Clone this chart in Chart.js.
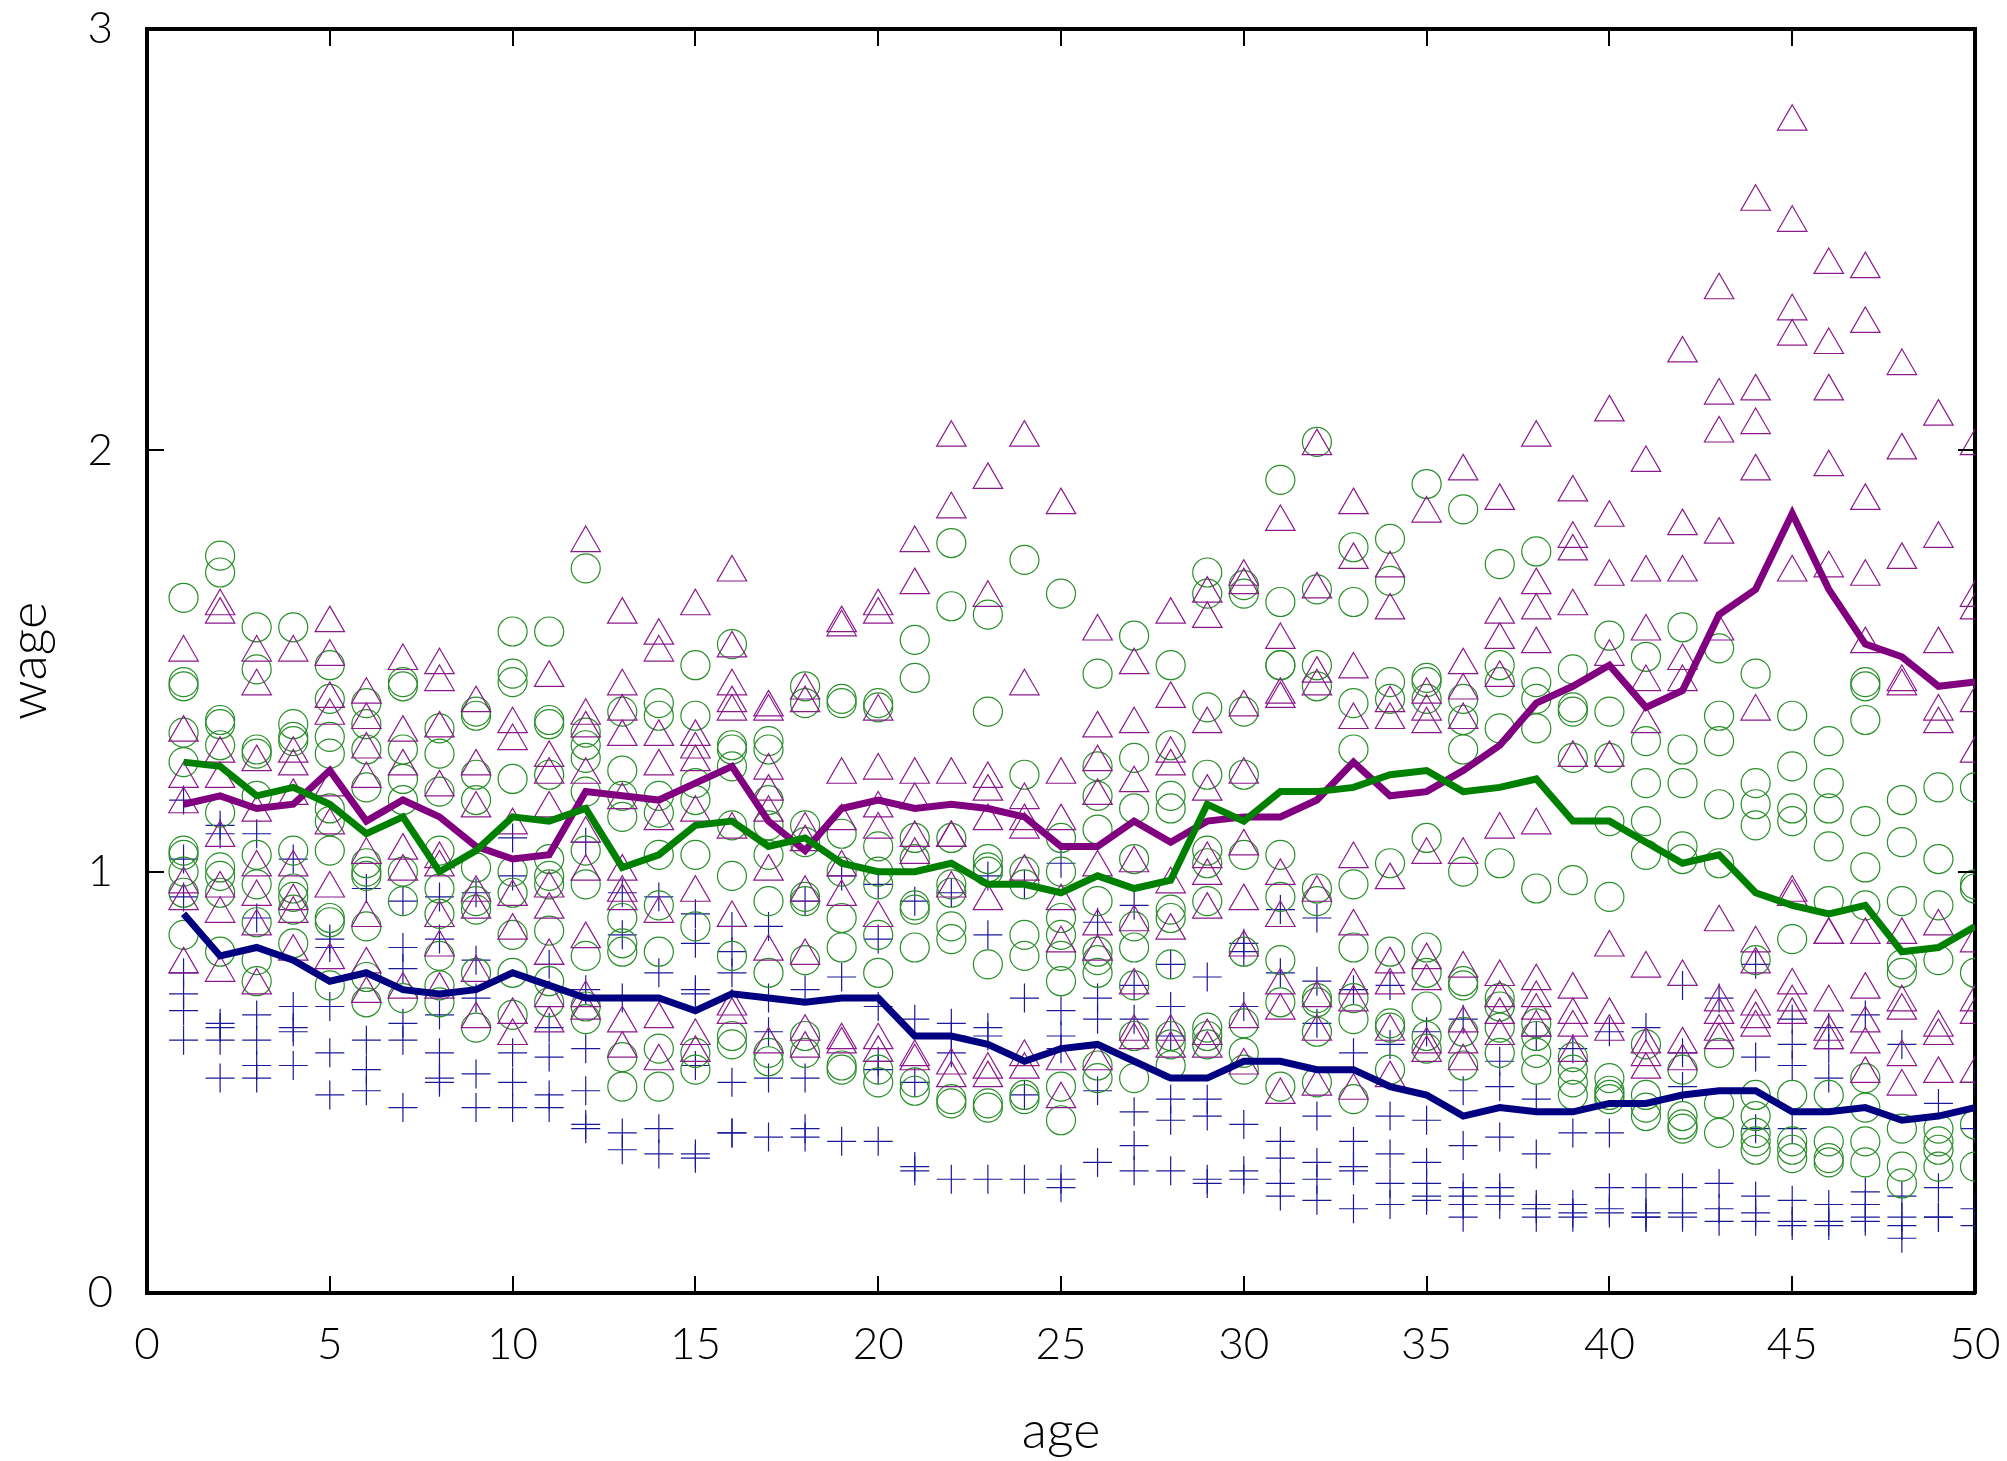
<!DOCTYPE html>
<html>
<head>
<meta charset="utf-8">
<title>wage by age</title>
<script src="https://cdn.jsdelivr.net/npm/chart.js@4.4.1/dist/chart.umd.min.js"></script>
<style>
  html, body { margin: 0; padding: 0; background: #fff; }
  #wrap { width: 2007px; height: 1461px; position: relative; }
</style>
</head>
<body>
<div id="wrap"><canvas id="wageChart"></canvas></div>
<script>
// ages on the x axis
const ages = [1,2,3,4,5,6,7,8,9,10,11,12,13,14,15,16,17,18,19,20,21,22,23,24,25,
              26,27,28,29,30,31,32,33,34,35,36,37,38,39,40,41,42,43,44,45,46,47,48,49,50];

// blue "+" observations, one list per age
const lowWages = [
  [1.17,1.03,0.94,0.76,0.71,0.67,0.60],
  [1.11,1.09,0.64,0.63,0.60,0.51],
  [1.09,0.89,0.66,0.60,0.54,0.51],
  [1.03,0.68,0.63,0.62,0.54],
  [0.84,0.82,0.68,0.57,0.47],
  [0.96,0.60,0.53,0.48],
  [0.93,0.82,0.77,0.64,0.60,0.44],
  [0.94,0.84,0.66,0.57,0.51,0.50],
  [0.95,0.79,0.70,0.52,0.44],
  [1.08,0.99,0.57,0.50,0.44],
  [0.78,0.63,0.56,0.47,0.44],
  [1.07,0.72,0.58,0.48,0.40,0.39],
  [0.95,0.85,0.70,0.38,0.34],
  [0.94,0.76,0.39,0.33],
  [0.90,0.83,0.72,0.71,0.54,0.33,0.32],
  [0.87,0.81,0.76,0.50,0.38,0.38],
  [0.87,0.70,0.62,0.51,0.37],
  [0.93,0.72,0.51,0.39,0.37],
  [0.99,0.75,0.36],
  [0.97,0.84,0.68,0.55,0.53,0.36],
  [0.93,0.65,0.50,0.30,0.29],
  [0.95,0.64,0.61,0.57,0.27],
  [0.99,0.85,0.63,0.61,0.27],
  [0.97,0.70,0.47,0.27],
  [1.02,0.67,0.61,0.58,0.27,0.25],
  [0.88,0.70,0.65,0.48,0.31],
  [0.92,0.73,0.65,0.43,0.35,0.29],
  [0.78,0.68,0.61,0.46,0.41,0.29],
  [0.75,0.46,0.42,0.27,0.26],
  [0.83,0.81,0.68,0.40,0.29,0.27],
  [0.91,0.76,0.36,0.32,0.26,0.23],
  [0.89,0.74,0.64,0.42,0.31,0.27,0.22],
  [0.72,0.57,0.36,0.30,0.29,0.20],
  [0.73,0.59,0.42,0.33,0.26,0.21],
  [0.62,0.41,0.31,0.26,0.23,0.22],
  [0.65,0.48,0.35,0.25,0.23,0.21,0.18],
  [0.55,0.49,0.37,0.25,0.23,0.21],
  [0.61,0.46,0.33,0.21,0.20,0.18],
  [0.58,0.38,0.21,0.19,0.18],
  [0.62,0.38,0.25,0.20,0.19],
  [0.63,0.25,0.19,0.18,0.18],
  [0.73,0.57,0.49,0.25,0.19,0.18],
  [0.70,0.26,0.20,0.17],
  [0.78,0.56,0.39,0.23,0.19,0.17],
  [0.65,0.59,0.54,0.39,0.22,0.17,0.16],
  [0.63,0.58,0.51,0.21,0.17,0.16],
  [0.66,0.24,0.21,0.18,0.17],
  [0.59,0.23,0.18,0.16,0.13],
  [0.45,0.25,0.18,0.18],
  [0.50,0.39,0.20,0.16]
];

// green circle observations
const midWages = [
  [1.65,1.45,1.44,1.33,1.26,1.05,1.04,1.00,0.95,0.85],
  [1.75,1.71,1.36,1.35,1.30,1.14,1.01,0.99,0.95,0.81],
  [1.58,1.48,1.29,1.28,1.18,1.04,0.97,0.88,0.79,0.74],
  [1.58,1.35,1.32,1.31,1.05,0.96,0.94,0.91,0.83],
  [1.49,1.41,1.32,1.28,1.15,1.12,1.05,0.89,0.88,0.73],
  [1.40,1.35,1.29,1.20,1.02,1.00,0.99,0.87,0.75,0.69],
  [1.45,1.44,1.29,1.22,1.17,1.00,0.93,0.70],
  [1.34,1.28,1.19,1.05,0.96,0.90,0.80,0.73,0.69],
  [1.38,1.37,1.23,1.17,1.01,0.93,0.91,0.76,0.63],
  [1.57,1.47,1.45,1.22,1.00,0.95,0.85,0.76,0.66],
  [1.57,1.36,1.35,1.23,1.03,0.99,0.97,0.86,0.74,0.69],
  [1.72,1.33,1.30,1.27,1.19,1.05,0.97,0.80,0.68,0.65],
  [1.38,1.24,1.18,1.13,0.89,0.83,0.81,0.56,0.49],
  [1.40,1.37,1.18,1.14,1.04,0.92,0.81,0.58,0.49],
  [1.49,1.37,1.21,1.17,1.04,0.87,0.57,0.53],
  [1.54,1.30,1.29,1.25,1.11,0.99,0.80,0.61,0.59],
  [1.31,1.29,1.17,1.11,1.04,0.93,0.76,0.57,0.55],
  [1.44,1.40,1.11,1.07,0.94,0.93,0.79,0.61,0.57],
  [1.41,1.40,1.09,1.00,0.89,0.82,0.54,0.53],
  [1.40,1.39,1.06,1.00,0.97,0.85,0.76,0.53,0.50],
  [1.55,1.46,1.08,1.03,0.92,0.91,0.82,0.50,0.48],
  [1.78,1.63,1.08,0.97,0.95,0.87,0.84,0.46,0.45],
  [1.61,1.38,1.03,1.01,1.00,0.78,0.45,0.44],
  [1.74,1.23,1.00,0.97,0.85,0.80,0.47,0.46],
  [1.66,1.08,1.00,0.89,0.85,0.80,0.74,0.49,0.41],
  [1.47,1.25,1.18,1.10,0.93,0.81,0.79,0.76,0.54,0.51],
  [1.56,1.27,1.15,1.03,0.87,0.82,0.73,0.61,0.51],
  [1.49,1.30,1.18,1.15,0.91,0.89,0.78,0.61,0.59,0.54],
  [1.71,1.66,1.39,1.23,1.05,1.02,0.93,0.63,0.61,0.59],
  [1.68,1.66,1.38,1.23,1.04,0.81,0.64,0.57,0.53],
  [1.93,1.64,1.49,1.49,1.04,0.94,0.79,0.69,0.49],
  [2.02,1.67,1.49,1.44,0.96,0.93,0.70,0.69,0.62,0.50],
  [1.77,1.64,1.40,1.29,0.97,0.82,0.70,0.65,0.46],
  [1.79,1.69,1.45,1.41,1.02,0.81,0.64,0.63,0.53],
  [1.92,1.46,1.45,1.41,1.08,0.82,0.76,0.68,0.61,0.58],
  [1.86,1.41,1.36,1.29,1.00,0.74,0.73,0.62,0.54],
  [1.73,1.49,1.45,1.34,1.02,0.70,0.68,0.63,0.57],
  [1.76,1.45,1.41,1.34,0.96,0.64,0.61,0.57,0.53],
  [1.48,1.39,1.38,1.27,0.98,0.56,0.53,0.50,0.47],
  [1.56,1.38,1.27,1.12,0.94,0.51,0.48,0.47,0.46],
  [1.51,1.31,1.21,1.12,1.04,0.59,0.47,0.44,0.42],
  [1.58,1.29,1.21,1.06,1.03,0.53,0.42,0.40,0.39],
  [1.53,1.37,1.31,1.16,1.02,0.57,0.45,0.38],
  [1.47,1.21,1.16,1.11,0.79,0.47,0.42,0.38,0.36,0.34],
  [1.37,1.25,1.15,1.12,0.84,0.47,0.36,0.34,0.32],
  [1.31,1.21,1.15,1.06,0.93,0.47,0.36,0.32,0.31],
  [1.45,1.44,1.36,1.12,1.01,0.92,0.51,0.44,0.36,0.31],
  [1.17,1.07,0.93,0.78,0.76,0.39,0.30,0.26],
  [1.20,1.03,0.92,0.79,0.39,0.36,0.34,0.30],
  [1.20,0.97,0.96,0.76,0.40,0.30]
];

// purple triangle observations
const highWages = [
  [1.52,1.33,1.22,1.16,0.97,0.93,0.78],
  [1.63,1.61,1.28,1.22,1.08,0.96,0.90,0.76],
  [1.52,1.44,1.26,1.14,1.01,0.94,0.87,0.73],
  [1.52,1.28,1.25,1.18,1.01,0.93,0.90,0.81],
  [1.59,1.51,1.41,1.37,1.20,1.11,0.96,0.79],
  [1.42,1.36,1.29,1.22,1.04,0.89,0.78,0.71],
  [1.50,1.33,1.25,1.05,1.00,0.72],
  [1.49,1.45,1.34,1.20,1.03,1.01,0.89,0.82,0.72],
  [1.40,1.25,1.15,0.95,0.91,0.76,0.65],
  [1.35,1.31,1.11,0.94,0.86,0.66,0.61],
  [1.46,1.27,1.23,1.15,0.96,0.91,0.80,0.70,0.64],
  [1.78,1.37,1.34,1.23,1.09,1.00,0.84,0.70,0.67],
  [1.61,1.44,1.38,1.32,1.17,1.00,0.95,0.93,0.64,0.58],
  [1.56,1.52,1.32,1.25,1.12,0.90,0.65,0.55],
  [1.63,1.32,1.29,1.26,1.14,0.95,0.61,0.57],
  [1.71,1.53,1.44,1.40,1.38,1.10,0.89,0.68,0.66],
  [1.39,1.38,1.24,1.19,1.14,1.00,0.81,0.59],
  [1.43,1.40,1.10,1.07,0.95,0.80,0.62,0.58],
  [1.59,1.58,1.23,1.12,1.01,0.94,0.60,0.59],
  [1.63,1.61,1.38,1.24,1.15,1.10,0.89,0.60,0.57],
  [1.78,1.68,1.23,1.17,1.08,1.04,0.56,0.55],
  [2.03,1.86,1.23,1.08,1.08,0.96,0.54,0.51],
  [1.93,1.65,1.22,1.19,1.12,0.93,0.53,0.51],
  [2.03,1.44,1.17,1.12,1.10,1.00,0.56,0.53],
  [1.87,1.23,1.12,0.93,0.83,0.55,0.46],
  [1.57,1.34,1.26,1.18,1.01,0.87,0.81,0.55],
  [1.49,1.35,1.21,1.02,0.88,0.73,0.62,0.60],
  [1.61,1.41,1.28,1.25,0.97,0.86,0.62,0.58],
  [1.66,1.60,1.35,1.19,1.03,0.99,0.91,0.61,0.58],
  [1.70,1.68,1.39,1.23,1.06,0.93,0.82,0.65,0.54],
  [1.83,1.55,1.42,1.41,0.99,0.89,0.73,0.67,0.47],
  [2.01,1.67,1.47,1.44,0.95,0.70,0.62,0.49],
  [1.87,1.74,1.48,1.36,1.03,0.87,0.73,0.69,0.48],
  [1.72,1.62,1.40,1.36,0.98,0.78,0.73,0.62,0.51],
  [1.85,1.42,1.38,1.35,1.04,0.79,0.74,0.59,0.57],
  [1.95,1.49,1.43,1.36,1.04,0.77,0.64,0.59,0.55],
  [1.88,1.61,1.55,1.46,1.10,0.75,0.70,0.66,0.61],
  [2.03,1.68,1.62,1.54,1.11,0.74,0.70,0.67,0.63],
  [1.90,1.79,1.76,1.63,1.27,0.72,0.66,0.63,0.57],
  [2.09,1.84,1.70,1.51,1.27,0.82,0.66,0.62],
  [1.97,1.71,1.57,1.45,1.35,0.77,0.59,0.56,0.53],
  [2.23,1.82,1.71,1.50,1.45,0.75,0.59,0.55],
  [2.38,2.13,2.04,1.80,1.57,0.88,0.69,0.66,0.62,0.60],
  [2.59,2.14,2.06,1.95,1.38,0.83,0.78,0.68,0.65,0.63],
  [2.78,2.54,2.33,2.27,1.71,0.95,0.94,0.73,0.69,0.66],
  [2.44,2.25,2.14,1.96,1.72,0.85,0.85,0.69,0.62,0.60],
  [2.43,2.30,1.88,1.70,1.54,0.85,0.72,0.64,0.59,0.52],
  [2.20,2.00,1.74,1.45,1.44,0.85,0.69,0.67,0.56,0.49],
  [2.08,1.79,1.54,1.38,1.35,0.87,0.63,0.61,0.52],
  [2.01,1.65,1.62,1.40,1.28,0.83,0.69,0.66,0.52]
];

// mean lines
const lowMean  = [0.90,0.80,0.82,0.79,0.74,0.76,0.72,0.71,0.72,0.76,0.73,0.70,0.70,0.70,0.67,
                  0.71,0.70,0.69,0.70,0.70,0.61,0.61,0.59,0.55,0.58,0.59,0.55,0.51,0.51,0.55,
                  0.55,0.53,0.53,0.49,0.47,0.42,0.44,0.43,0.43,0.45,0.45,0.47,0.48,0.48,0.43,
                  0.43,0.44,0.41,0.42,0.44];
const midMean  = [1.26,1.25,1.18,1.20,1.16,1.09,1.13,1.00,1.05,1.13,1.12,1.15,1.01,1.04,1.11,
                  1.12,1.06,1.08,1.02,1.00,1.00,1.02,0.97,0.97,0.95,0.99,0.96,0.98,1.16,1.12,
                  1.19,1.19,1.20,1.23,1.24,1.19,1.20,1.22,1.12,1.12,1.07,1.02,1.04,0.95,0.92,
                  0.90,0.92,0.81,0.82,0.87];
const highMean = [1.16,1.18,1.15,1.16,1.24,1.12,1.17,1.13,1.06,1.03,1.04,1.19,1.18,1.17,1.21,
                  1.25,1.12,1.05,1.15,1.17,1.15,1.16,1.15,1.13,1.06,1.06,1.12,1.07,1.12,1.13,
                  1.13,1.17,1.26,1.18,1.19,1.24,1.30,1.40,1.44,1.49,1.39,1.43,1.61,1.67,1.85,
                  1.67,1.54,1.51,1.44,1.45];

const xTickValues = [0, 5, 10, 15, 20, 25, 30, 35, 40, 45, 50];
const yTickValues = [0, 1, 2, 3];

function toPoints(groups) {
  return groups.flatMap((vals, i) => vals.map(v => ({ x: ages[i], y: v })));
}
function toLine(means) {
  return means.map((v, i) => ({ x: ages[i], y: v }));
}

// gnuplot style ticks: short marks pointing into the plot on all four sides
const innerTicks = {
  id: 'innerTicks',
  afterDraw(chart) {
    const { ctx, chartArea: a, scales: { x, y } } = chart;
    ctx.save();
    ctx.strokeStyle = '#000';
    ctx.lineWidth = 2;
    ctx.beginPath();
    xTickValues.forEach(v => {
      const px = Math.round(x.getPixelForValue(v));
      ctx.moveTo(px, a.bottom); ctx.lineTo(px, a.bottom - 17);
      ctx.moveTo(px, a.top); ctx.lineTo(px, a.top + 17);
    });
    yTickValues.forEach(v => {
      const py = Math.round(y.getPixelForValue(v));
      ctx.moveTo(a.left, py); ctx.lineTo(a.left + 17, py);
      ctx.moveTo(a.right, py); ctx.lineTo(a.right - 17, py);
    });
    ctx.stroke();
    ctx.restore();
  }
};

// keep the plot box where the reference has it, whatever the tick labels overhang
function fixHoriz(h) {
  return s => { s.height = h; s.paddingLeft = 0; s.paddingRight = 0; };
}
function fixVert(w) {
  return s => { s.width = w; s.paddingTop = 0; s.paddingBottom = 0; };
}

Chart.defaults.font.family = "Lato, 'DejaVu Sans', sans-serif";
Chart.defaults.font.weight = '300';
Chart.defaults.color = '#000';

const ctx = document.getElementById('wageChart').getContext('2d');
new Chart(ctx, {
  type: 'scatter',
  data: {
    datasets: [
      { label: 'low', data: toPoints(lowWages), pointStyle: 'cross', pointRadius: 14.5,
        borderColor: '#1a1a99', borderWidth: 1.2, backgroundColor: 'transparent', order: 4 },
      { label: 'mid', data: toPoints(midWages), pointStyle: 'circle', pointRadius: 14.5,
        borderColor: '#2a8f2a', borderWidth: 1.2, backgroundColor: 'transparent', order: 3 },
      { label: 'high', data: toPoints(highWages), pointStyle: 'triangle', pointRadius: 17,
        borderColor: '#8b1a8b', borderWidth: 1.2, backgroundColor: 'transparent', order: 2 },
      { label: 'low mean', type: 'line', data: toLine(lowMean), borderColor: '#000080',
        borderWidth: 7, pointRadius: 0, fill: false, tension: 0, order: 1 },
      { label: 'mid mean', type: 'line', data: toLine(midMean), borderColor: '#008000',
        borderWidth: 7, pointRadius: 0, fill: false, tension: 0, order: 1 },
      { label: 'high mean', type: 'line', data: toLine(highMean), borderColor: '#800080',
        borderWidth: 7, pointRadius: 0, fill: false, tension: 0, order: 1 }
    ]
  },
  plugins: [innerTicks],
  options: {
    responsive: true,
    maintainAspectRatio: false,
    animation: false,
    events: [],
    layout: { padding: { top: 29, right: 32, left: 0, bottom: 0 } },
    plugins: {
      legend: { display: false },
      tooltip: { enabled: false }
    },
    scales: {
      x: {
        type: 'linear', position: 'bottom', min: 0, max: 50, z: 1,
        afterFit: fixHoriz(168),
        grid: { display: false },
        border: { display: true, color: '#000', width: 4 },
        ticks: { stepSize: 5, padding: 17, maxRotation: 0, font: { size: 44 } },
        title: { display: true, text: 'age', font: { size: 52, lineHeight: 1 },
                 padding: { top: 0, bottom: 4 } }
      },
      y: {
        type: 'linear', position: 'left', min: 0, max: 3, z: 1,
        afterFit: fixVert(147),
        grid: { display: false },
        border: { display: true, color: '#000', width: 4 },
        ticks: { stepSize: 1, padding: 26, font: { size: 44 } },
        title: { display: true, text: 'wage', font: { size: 52, lineHeight: 1 },
                 padding: { top: 3, bottom: 0 } }
      },
      x2: {
        type: 'linear', position: 'top', min: 0, max: 50, z: 1,
        afterFit: fixHoriz(0),
        grid: { display: false },
        border: { display: true, color: '#000', width: 4 },
        ticks: { display: false }
      },
      y2: {
        type: 'linear', position: 'right', min: 0, max: 3, z: 1,
        afterFit: fixVert(0),
        grid: { display: false },
        border: { display: true, color: '#000', width: 4 },
        ticks: { display: false }
      }
    }
  }
});
</script>
</body>
</html>
